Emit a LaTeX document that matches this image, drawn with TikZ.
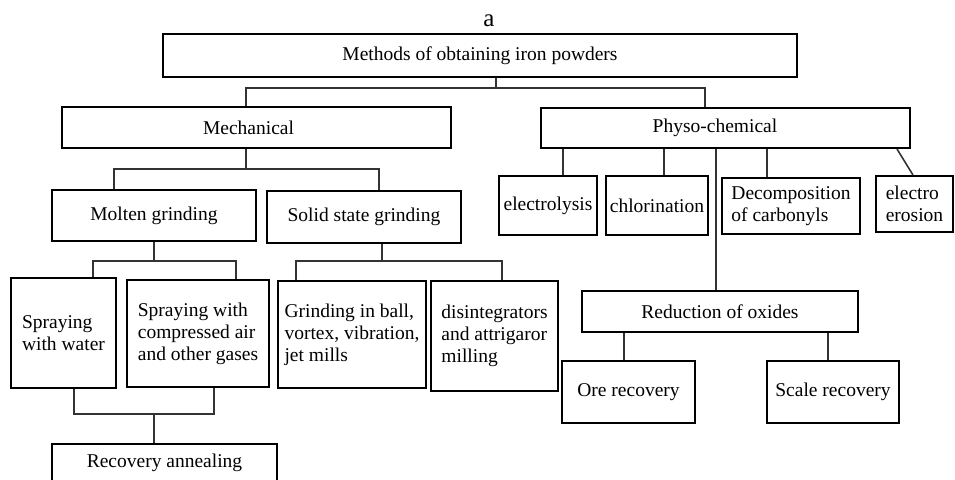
\documentclass[tikz,border=0pt]{standalone}
\usepackage{fontspec}
\setmainfont{Liberation Serif}
\usepackage{tikz}
\usetikzlibrary{calc}
\tikzset{>=latex}
\tikzset{box/.style = {draw, line width = 1pt, inner sep = 1pt, align = left, font = \fontsize{9.75}{11}\selectfont},
  link/.style = {line width = 0.8pt, black!80}}

\begin{document}
\begin{tikzpicture}[x = 0.5pt, y = -0.5pt]
\useasboundingbox (0,0) rectangle (955,479);
\clip (0,0) rectangle (955,479);
\node (lbl) at (489, 21) {\fontsize{12.5}{14}\selectfont a};
\node[box, minimum width = 317pt, minimum height = 21.5pt] (methods) at (480, 55.5) {Methods of obtaining iron powders};
% mechanical branch
\node[box, minimum width = 194.5pt, minimum height = 20.5pt] (mech) at (256.5, 127.5) {Mechanical\kern 8pt};
\node[box, minimum width = 102pt, minimum height = 25.5pt] (molten) at (154, 215.5) {Molten grinding};
\node[box, minimum width = 97pt, minimum height = 26pt] (solid) at (364, 217) {Solid state grinding};
\node[box, minimum width = 52.5pt, minimum height = 55pt] (water) at (63.5, 333) {Spraying\\with water};
\node[box, minimum width = 71pt, minimum height = 53.5pt] (gases) at (198, 333.5) {Spraying with\\compressed air\\and other gases};
\node[box, minimum width = 74pt, minimum height = 53.5pt] (mills) at (352, 334.5) {Grinding in ball,\\vortex, vibration,\\jet mills};
\node[box, minimum width = 63.5pt, minimum height = 55pt] (disint) at (494.5, 336) {disintegrators\\and attrigaror\\milling};
\node[box, minimum width = 112.5pt, minimum height = 19pt] (anneal) at (164.5, 463) {Recovery annealing};
% physico-chemical branch
\node[box, minimum width = 184.5pt, minimum height = 20pt] (phys) at (725.5, 128) {Physo-chemical\kern 10.5pt};
\node[box, minimum width = 49pt, minimum height = 29.5pt] (elys) at (548, 205.5) {electrolysis};
\node[box, minimum width = 51pt, minimum height = 29.5pt] (chlor) at (657, 205.5) {chlorination};
\node[box, minimum width = 69pt, minimum height = 28pt] (carb) at (791, 206) {Decomposition\\of carbonyls};
\node[box, minimum width = 38.5pt, minimum height = 28pt] (eros) at (914.5, 204) {electro\\erosion};
\node[box, minimum width = 138pt, minimum height = 20.5pt] (oxides) at (720, 311.5) {Reduction of oxides};
\node[box, minimum width = 66.5pt, minimum height = 31pt] (ore) at (628.5, 392) {Ore recovery};
\node[box, minimum width = 66pt, minimum height = 31pt] (scale) at (833, 392) {Scale recovery};

\draw[link] ([xshift = 8pt]methods.south) -- ++(0, 10) coordinate (bus1);
\draw[link] ([xshift = -5.25pt]mech.north) |- (bus1) -| ([xshift = -10.25pt]phys.north);
\draw[link] ([xshift = -5.25pt]mech.south) -- ++(0, 20) coordinate (bus2);
\draw[link] ([xshift = -20pt]molten.north) |- (bus2) -| ([xshift = 7.5pt]solid.north);
\draw[link] (molten.south) -- ++(0, 19) coordinate (bus3);
\draw[link] ([xshift = 14.75pt]water.north) |- (bus3) -| ([xshift = 19pt]gases.north);
\draw[link] ([xshift = 9pt]solid.south) -- ++(0, 17) coordinate (bus4);
\draw[link] ([xshift = -28pt]mills.north) |- (bus4) -| ([xshift = 3.75pt]disint.north);
\draw[link] ([xshift = 5.25pt]water.south) -- ++(0, 25) coordinate (bus5) -| ([xshift = 8pt]gases.south);
\draw[link] ([xshift = -5.25pt]anneal.north) |- (bus5);

\draw[link] ([xshift = 7.5pt]elys.north) -- ([xshift = 7.5pt]elys.north |- phys.south);
\draw[link] ([xshift = 3.5pt]chlor.north) -- ([xshift = 3.5pt]chlor.north |- phys.south);
\draw[link] ([xshift = -2pt]oxides.north) -- ([xshift = -2pt]oxides.north |- phys.south);
\draw[link] ([xshift = -12pt]carb.north) -- ([xshift = -12pt]carb.north |- phys.south);
\draw[link] ([xshift = 85.75pt]phys.south) -- ([xshift = -0.75pt]eros.north);
\draw[link] ([xshift = -2.25pt]ore.north) -- ([xshift = -2.25pt]ore.north |- oxides.south);
\draw[link] ([xshift = -2.5pt]scale.north) -- ([xshift = -2.5pt]scale.north |- oxides.south);
\end{tikzpicture}
\end{document}
